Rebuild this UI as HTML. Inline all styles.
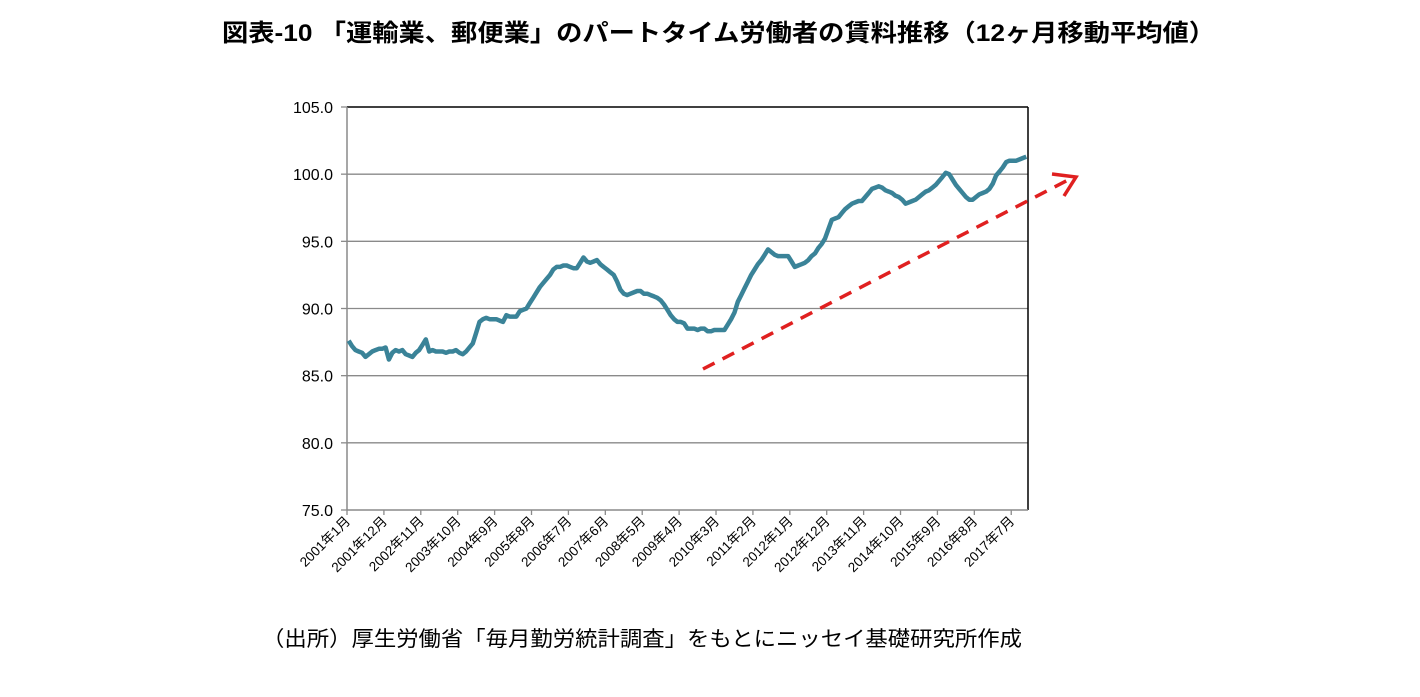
<!DOCTYPE html>
<html><head><meta charset="utf-8"><style>
body{margin:0;background:#fff;width:1420px;height:697px;overflow:hidden;font-family:"Liberation Sans","Noto Sans CJK JP",sans-serif}
svg{position:absolute;left:0;top:0}
</style></head><body>
<svg id="c" width="1420" height="697">
<text x="222" y="41" font-size="24" font-weight="bold" textLength="993" lengthAdjust="spacingAndGlyphs" font-family="Liberation Sans, Noto Sans CJK JP, sans-serif">図表-10 「運輸業、郵便業」のパートタイム労働者の賃料推移（12ヶ月移動平均値）</text>
<text x="262" y="646" font-size="21" textLength="760" lengthAdjust="spacingAndGlyphs" font-family="Liberation Sans, Noto Sans CJK JP, sans-serif">（出所）厚生労働省「毎月勤労統計調査」をもとにニッセイ基礎研究所作成</text>
<g id="grid"></g><g id="axes"></g><g id="series"></g>
<g>
<line x1="703" y1="369" x2="1068" y2="180" stroke="#e02020" stroke-width="3.5" stroke-dasharray="13 9"/>
<polyline points="1052,174 1076,177 1064,196" fill="none" stroke="#e02020" stroke-width="3.5"/>
</g>
</svg>
<script>
const yTicks=[75,80,85,90,95,100,105];
const tickLabels=["2001年1月","2001年12月","2002年11月","2003年10月","2004年9月","2005年8月","2006年7月","2007年6月","2008年5月","2009年4月","2010年3月","2011年2月","2012年1月","2012年12月","2013年11月","2014年10月","2015年9月","2016年8月","2017年7月"];
const wages=[87.6,87.2,86.9,86.8,86.7,86.4,86.6,86.8,86.9,87.0,87.0,
87.1,86.2,86.7,86.9,86.8,86.9,86.6,86.5,86.4,86.7,86.9,
87.3,87.7,86.8,86.9,86.8,86.8,86.8,86.7,86.8,86.8,86.9,
86.7,86.6,86.8,87.1,87.4,88.2,89.0,89.2,89.3,89.2,89.2,
89.2,89.1,89.0,89.5,89.4,89.4,89.4,89.8,89.9,90.0,90.4,
90.8,91.2,91.6,91.9,92.2,92.5,92.9,93.1,93.1,93.2,93.2,
93.1,93.0,93.0,93.4,93.8,93.5,93.4,93.5,93.6,93.3,93.1,
92.9,92.7,92.5,92.0,91.4,91.1,91.0,91.1,91.2,91.3,91.3,
91.1,91.1,91.0,90.9,90.8,90.6,90.3,89.9,89.5,89.2,89.0,
89.0,88.9,88.5,88.5,88.5,88.4,88.5,88.5,88.3,88.3,88.4,
88.4,88.4,88.4,88.8,89.2,89.7,90.5,91.0,91.5,92.0,92.5,
92.9,93.3,93.6,94.0,94.4,94.2,94.0,93.9,93.9,93.9,93.9,
93.5,93.1,93.2,93.3,93.4,93.6,93.9,94.1,94.5,94.8,95.2,
95.9,96.6,96.7,96.8,97.1,97.4,97.6,97.8,97.9,98.0,98.0,
98.3,98.6,98.9,99.0,99.1,99.0,98.8,98.7,98.6,98.4,98.3,
98.1,97.8,97.9,98.0,98.1,98.3,98.5,98.7,98.8,99.0,99.2,
99.5,99.8,100.1,100.0,99.6,99.2,98.9,98.6,98.3,98.1,98.1,
98.3,98.5,98.6,98.7,98.9,99.3,99.9,100.2,100.5,100.9,101.0,
101.0,101.0,101.1,101.2,101.3];
const NS='http://www.w3.org/2000/svg';
const L=347,R=1028,T=107,B=510,yMin=75,yMax=105,tickEvery=11;
const n=wages.length;
const xs=i=>L+(i+0.5)*(R-L)/n;
const ys=v=>B-(v-yMin)/(yMax-yMin)*(B-T);
function mk(t,a,p){const e=document.createElementNS(NS,t);for(const k in a)e.setAttribute(k,a[k]);p.appendChild(e);return e;}
const grid=document.getElementById('grid'),axes=document.getElementById('axes'),ser=document.getElementById('series');
yTicks.forEach(v=>{
 const y=ys(v);
 if(v>yMin&&v<yMax){const g=mk('line',{x1:L,x2:R,y1:y,y2:y,stroke:'#8a8a8a','stroke-width':1.3},grid);
 
 }
 mk('line',{x1:L-6,x2:L,y1:y,y2:y,stroke:'#8a8a8a','stroke-width':1.3},axes);
 const t=mk('text',{x:L-14,y:y+6,'text-anchor':'end','font-size':16},axes);
 t.textContent=v.toFixed(1);
 
 
});
mk('line',{x1:L,x2:R,y1:T,y2:T,stroke:'#000','stroke-width':1.5},axes);
mk('line',{x1:R,x2:R,y1:T,y2:B,stroke:'#000','stroke-width':1.5},axes);
mk('line',{x1:L,x2:L,y1:T,y2:B,stroke:'#8a8a8a','stroke-width':1.5},axes);
mk('line',{x1:L,x2:R,y1:B,y2:B,stroke:'#8a8a8a','stroke-width':1.5},axes);
tickLabels.forEach((lab,k)=>{
 const x=L+k*tickEvery*(R-L)/n;
 mk('line',{x1:x,x2:x,y1:B,y2:B+5,stroke:'#8a8a8a','stroke-width':1.3},axes);
 const t=mk('text',{x:x+4,y:B+12,'text-anchor':'end','font-size':13.5,transform:`rotate(-45 ${x+4} ${B+12})`},axes);
 t.textContent=lab;
 
 
});
const p=mk('polyline',{points:wages.map((v,i)=>xs(i).toFixed(1)+','+ys(v).toFixed(1)).join(' '),fill:'none',stroke:'#3a8398','stroke-width':4.5,'stroke-linejoin':'round'},ser);


</script>
</body></html>
